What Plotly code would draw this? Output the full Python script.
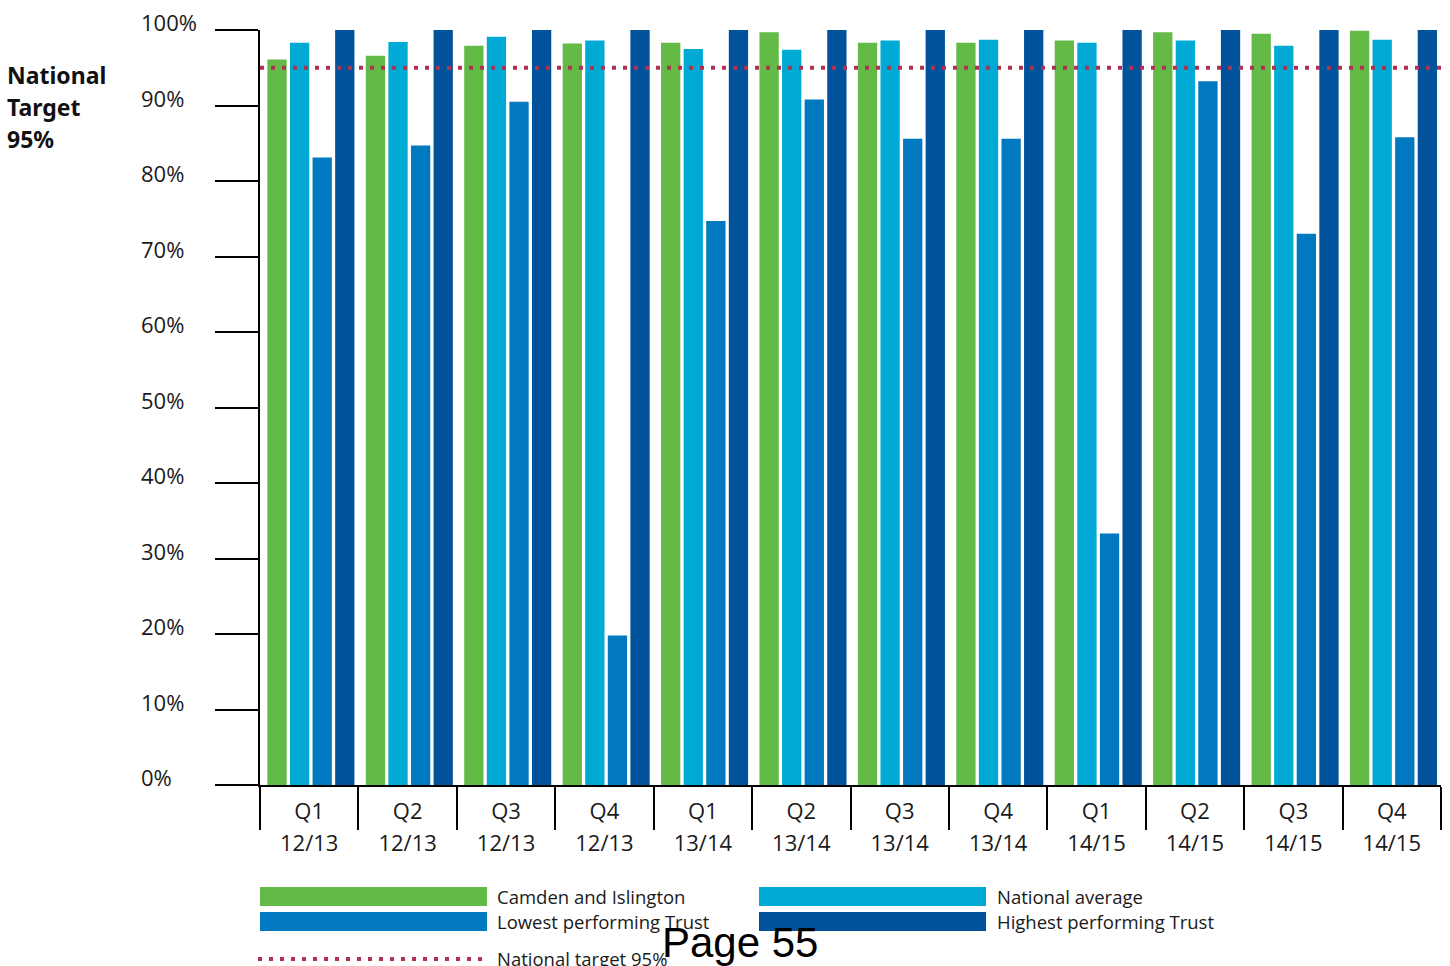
import plotly.graph_objects as go

# Quarterly performance against the 95% national target
quarters = ["Q1", "Q2", "Q3", "Q4", "Q1", "Q2", "Q3", "Q4", "Q1", "Q2", "Q3", "Q4"]
years = ["12/13", "12/13", "12/13", "12/13", "13/14", "13/14", "13/14", "13/14",
         "14/15", "14/15", "14/15", "14/15"]

series_names = ["Camden and Islington", "National average",
                "Lowest performing Trust", "Highest performing Trust"]
camden = [96.1, 96.6, 97.9, 98.2, 98.3, 99.7, 98.3, 98.3, 98.6, 99.7, 99.5, 99.9]
national_avg = [98.3, 98.4, 99.1, 98.6, 97.5, 97.4, 98.6, 98.7, 98.3, 98.6, 97.9, 98.7]
lowest = [83.1, 84.7, 90.5, 19.8, 74.7, 90.8, 85.6, 85.6, 33.3, 93.2, 73.0, 85.8]
highest = [100, 100, 100, 100, 100, 100, 100, 100, 100, 100, 100, 100]

target = 95
target_label = "National target 95%"
side_note = ["National", "Target", "95%"]
y_ticks = [0, 10, 20, 30, 40, 50, 60, 70, 80, 90, 100]
y_tick_text = [f"{v}%" for v in y_ticks]

colors = ["#63BA46", "#00AAD4", "#0079C1", "#00539B"]
series = [camden, national_avg, lowest, highest]

# plot area geometry (pixels) used to convert legend/label positions to paper coords
W, H = 1450, 966
L, R, T, B = 260, 9, 30, 181
PW, PH = W - L - R, H - T - B


def px(xp):
    return (xp - L) / PW


def py(yp):
    return (H - B - yp) / PH


FONT = "Open Sans"
TXT = "#1a1a1a"

fig = go.Figure()

groups = list(range(len(quarters)))
bar_w = 0.196
pitch = 0.2295
first = 0.075
for k, (name, vals, col) in enumerate(zip(series_names, series, colors)):
    fig.add_trace(go.Bar(
        x=groups, y=vals, name=name,
        width=bar_w, offset=first + k * pitch,
        marker=dict(color=col, line=dict(width=0)),
        showlegend=False, xaxis="x", yaxis="y",
    ))

# invisible traces carrying the two rows of category labels
centers = [g + 0.5 for g in groups]
for ax in ("x2", "x3"):
    fig.add_trace(go.Scatter(
        x=centers, y=[None] * len(groups),
        xaxis=ax, yaxis="y", showlegend=False, hoverinfo="skip",
    ))

# national target line
fig.add_shape(type="line", xref="x", yref="y", x0=0, x1=len(groups), y0=target, y1=target,
              line=dict(color="#B03252", width=4, dash="4px,7px"), layer="above")

annotations = []
# y tick labels, left aligned
for v, t in zip(y_ticks, y_tick_text):
    annotations.append(dict(
        x=px(139), y=v, xref="paper", yref="y", text=t, showarrow=False,
        xanchor="left", yanchor="middle", yshift=8,
        font=dict(family=FONT, size=22, color=TXT),
    ))

# left side note
for i, line in enumerate(side_note):
    annotations.append(dict(
        x=px(5), y=py(75 + 32 * i), xref="paper", yref="paper",
        text=f"<b>{line}</b>", showarrow=False,
        xanchor="left", yanchor="middle", align="left",
        font=dict(family="Noto Sans", size=23, color="#111"),
    ))

# legend
legend_items = [
    (series_names[0], colors[0], 260, 487, 887, 906, 495),
    (series_names[2], colors[2], 260, 487, 912, 931, 495),
    (series_names[1], colors[1], 759, 986, 887, 906, 995),
    (series_names[3], colors[3], 759, 986, 912, 931, 995),
]
for name, col, x0, x1, y0, y1, tx in legend_items:
    fig.add_shape(type="rect", xref="paper", yref="paper",
                  x0=px(x0), x1=px(x1), y0=py(y1), y1=py(y0),
                  fillcolor=col, line=dict(width=0))
    annotations.append(dict(
        x=px(tx), y=py((y0 + y1) / 2), xref="paper", yref="paper", text=name,
        showarrow=False, xanchor="left", yanchor="middle",
        font=dict(family=FONT, size=18.5, color=TXT),
    ))
fig.add_shape(type="line", xref="paper", yref="paper",
              x0=px(258), x1=px(487), y0=py(959), y1=py(959),
              line=dict(color="#B03252", width=4, dash="4px,7px"))
annotations.append(dict(
    x=px(495), y=py(958), xref="paper", yref="paper", text=target_label,
    showarrow=False, xanchor="left", yanchor="middle",
    font=dict(family=FONT, size=18.5, color=TXT),
))

# page number
annotations.append(dict(
    x=px(740), y=py(942), xref="paper", yref="paper", text="Page 55",
    showarrow=False, xanchor="center", yanchor="middle",
    font=dict(family="Liberation Sans", size=42, color="#000"),
))

label_axis = dict(
    overlaying="x", anchor="y", side="bottom",
    range=[0, len(groups)], tickvals=centers,
    ticks="", showline=False, showgrid=False, zeroline=False,
    tickfont=dict(family=FONT, size=22, color=TXT),
)

fig.update_layout(
    width=W, height=H,
    margin=dict(l=L, r=R, t=T, b=B, pad=0),
    paper_bgcolor="white", plot_bgcolor="white",
    barmode="overlay",
    xaxis=dict(
        range=[0, len(groups)], tickvals=list(range(len(groups) + 1)),
        showticklabels=False, ticks="outside", ticklen=43, tickwidth=2,
        tickcolor="black", showline=True, linewidth=2, linecolor="black",
        showgrid=False, zeroline=False, fixedrange=True,
    ),
    xaxis2=dict(label_axis, ticktext=quarters, ticklabelstandoff=11),
    xaxis3=dict(label_axis, ticktext=years, ticklabelstandoff=43),
    yaxis=dict(
        range=[0, 100], tickvals=y_ticks, showticklabels=False,
        ticks="outside", ticklen=43, tickwidth=2, tickcolor="black",
        showline=True, linewidth=2, linecolor="black",
        showgrid=False, zeroline=False,
    ),
    annotations=annotations,
)

fig.write_html("out.html")
